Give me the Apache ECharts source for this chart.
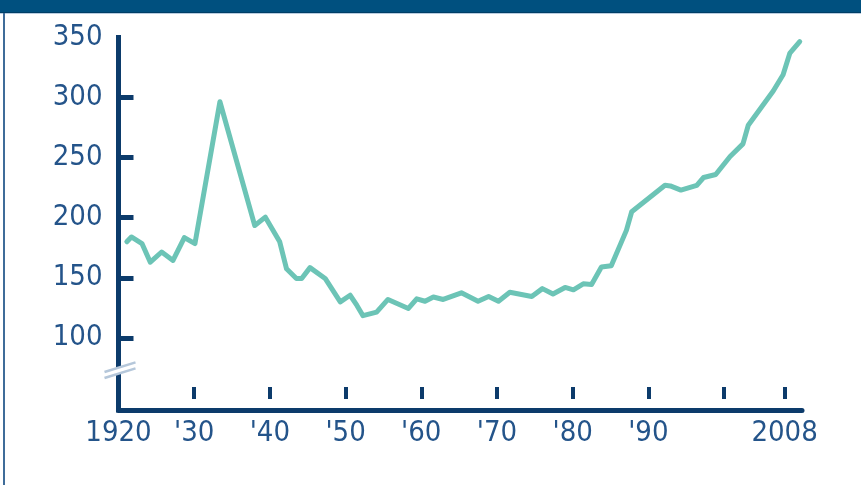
<!DOCTYPE html>
<html>
<head>
<meta charset="utf-8">
<title>1920–2008</title>
<script src="https://cdn.jsdelivr.net/npm/echarts@6/dist/echarts.min.js"></script>
<style>
  html, body { margin: 0; padding: 0; background: #ffffff; }
  #chart { width: 861px; height: 485px; }
</style>
</head>
<body>
<div id="chart"></div>
<script>
// Series: year (x) and index value (y)
const years = [
  1921.1, 1921.7, 1923.1, 1924.2, 1925.7, 1927.2, 1928.7, 1930.1, 1933.4, 1938.0,
  1939.4, 1941.3, 1942.2, 1943.5, 1944.2, 1945.3, 1947.3, 1949.3, 1950.6, 1951.5,
  1952.3, 1954.1, 1955.6, 1958.3, 1959.4, 1960.5, 1961.6, 1962.9, 1965.3, 1967.5,
  1968.9, 1970.2, 1971.7, 1974.6, 1976.0, 1977.4, 1979.0, 1980.1, 1981.4, 1982.5,
  1983.8, 1985.1, 1987.1, 1987.8, 1992.2, 1992.9, 1994.3, 1996.4, 1997.3, 1998.9,
  2000.8, 2002.5, 2003.2, 2006.5, 2007.8, 2008.7, 2010.0
];
const values = [
  180, 184, 178.5, 163, 171.5, 164.5, 183.5, 178.5, 296.5, 193.5,
  200.5, 180, 157.5, 149.5, 149.5, 158.5, 149.5, 130, 135.5, 127,
  118.5, 121.5, 132, 124.5, 132.5, 130.5, 134, 132, 137.5, 130.5,
  134.5, 130.5, 138, 134.5, 141, 136.5, 142, 140, 145, 144.5,
  159, 160, 189.5, 205, 227, 226.5, 223, 227, 233.5, 236,
  251, 261.5, 277, 305.5, 319, 337, 346.5
];

// Axis labels and tick positions
const yLabelValues = [100, 150, 200, 250, 300, 350];
const yTickValues = [100, 150, 200, 250, 300];
const xLabelValues = [1920, 1930, 1940, 1950, 1960, 1970, 1980, 1990, 2008];
const xTickValues = [1930, 1940, 1950, 1960, 1970, 1980, 1990, 2000, 2008];

const NAVY = '#0c3b6b';
const TEXT = '#24548a';
const FONT = "'Liberation Sans Narrow', 'DejaVu Sans Condensed', 'Roboto Condensed', 'Liberation Sans', sans-serif";

const X_MIN = 1920, X_MAX = 2010.3;
const Y_MIN = 40, Y_MAX = 350;
const BREAK_VALUE = 73;

function yearLabel(v) {
  if (v === 1920 || v === 2008) return String(v);
  return "'" + String(v % 100).padStart(2, '0');
}

const chart = echarts.init(document.getElementById('chart'), null, { renderer: 'canvas' });

chart.setOption({
  animation: false,
  backgroundColor: '#ffffff',
  grid: { left: 118.5, right: 59, top: 37.5, bottom: 75, containLabel: false },
  xAxis: [
    {
      type: 'value',
      min: X_MIN,
      max: X_MAX,
      position: 'bottom',
      axisLine: { show: true, lineStyle: { color: NAVY, width: 5, cap: 'round' } },
      axisTick: { show: false },
      splitLine: { show: false },
      axisLabel: {
        show: true,
        customValues: xLabelValues,
        formatter: yearLabel,
        color: TEXT,
        fontFamily: FONT,
        fontSize: 29,
        margin: 9
      }
    },
    {
      // floating year ticks above the baseline
      type: 'value',
      min: X_MIN,
      max: X_MAX,
      position: 'bottom',
      offset: -11,
      axisLine: { show: false },
      axisLabel: { show: false },
      splitLine: { show: false },
      axisTick: {
        show: true,
        inside: true,
        length: 12,
        customValues: xTickValues,
        lineStyle: { color: NAVY, width: 4 }
      }
    }
  ],
  yAxis: {
    type: 'value',
    min: Y_MIN,
    max: Y_MAX,
    axisLine: { show: true, lineStyle: { color: NAVY, width: 5, cap: 'square' } },
    splitLine: { show: false },
    axisTick: {
      show: true,
      inside: true,
      length: 15,
      customValues: yTickValues,
      lineStyle: { color: NAVY, width: 5 }
    },
    axisLabel: {
      show: true,
      customValues: yLabelValues,
      color: TEXT,
      fontFamily: FONT,
      fontSize: 29,
      margin: 16
    }
  },
  series: [{
    type: 'line',
    xAxisIndex: 0,
    data: years.map((y, i) => [y, values[i]]),
    showSymbol: false,
    smooth: false,
    clip: false,
    lineStyle: { color: '#6cc4b6', width: 5, cap: 'round', join: 'round' }
  }]
});

// Frame (header bar, left rule) and the axis-break mark
function drawDecor() {
  const p = chart.convertToPixel({ xAxisIndex: 0, yAxisIndex: 0 }, [X_MIN, BREAK_VALUE]);
  const cx = p[0] + 1, cy = p[1];
  const slope = -0.31;
  const x0 = cx - 15, x1 = cx + 16;
  const yAt = (x, off) => cy + off + slope * (x - cx);
  const gap = 3;

  chart.setOption({
    graphic: [
      { type: 'rect', shape: { x: 0, y: 0, width: 861, height: 12 }, style: { fill: '#00507f' }, z: 100 },
      { type: 'rect', shape: { x: 0, y: 12, width: 861, height: 1 }, style: { fill: '#003e66' }, z: 100 },
      { type: 'rect', shape: { x: 0, y: 13, width: 861, height: 1 }, style: { fill: '#b9cde0' }, z: 100 },
      { type: 'rect', shape: { x: 3, y: 13, width: 2, height: 472 }, style: { fill: '#3f6c99' }, z: 100 },
      {
        type: 'polygon',
        shape: { points: [[x0, yAt(x0, -gap)], [x1, yAt(x1, -gap)], [x1, yAt(x1, gap)], [x0, yAt(x0, gap)]] },
        style: { fill: '#ffffff' },
        z: 100
      },
      {
        type: 'line',
        shape: { x1: x0, y1: yAt(x0, -gap), x2: x1, y2: yAt(x1, -gap) },
        style: { stroke: '#b5c7da', lineWidth: 2.5 },
        z: 101
      },
      {
        type: 'line',
        shape: { x1: x0, y1: yAt(x0, gap), x2: x1, y2: yAt(x1, gap) },
        style: { stroke: '#b5c7da', lineWidth: 2.5 },
        z: 101
      }
    ]
  });
}
drawDecor();
</script>
</body>
</html>
